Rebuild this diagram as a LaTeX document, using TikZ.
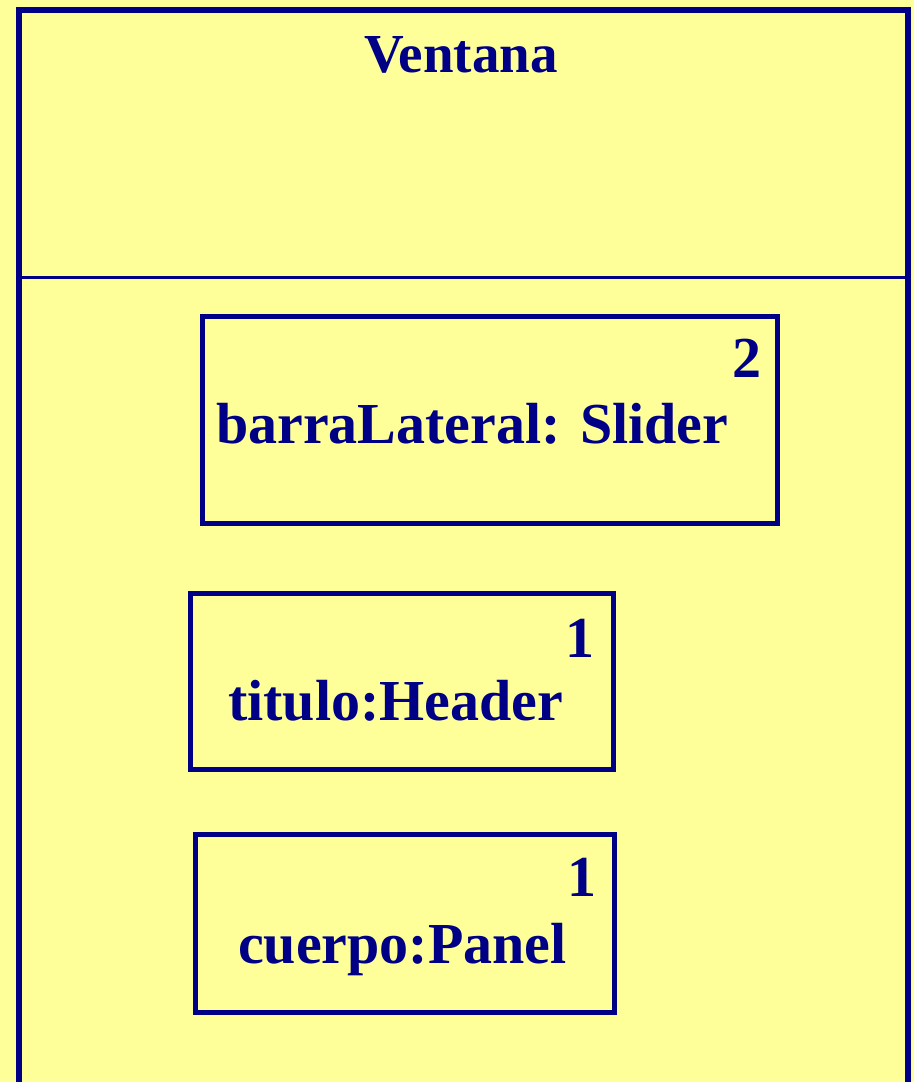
\documentclass[tikz,border=0pt]{standalone}
\usepackage{fontspec}
\setmainfont{Liberation Serif}
\definecolor{fondo}{RGB}{255,255,153}
\definecolor{marino}{RGB}{0,0,134}

\begin{document}
\begin{tikzpicture}[x=1pt,y=-1pt,
    parte/.style={draw=marino,line width=5pt,inner sep=0pt},
    rotulo/.style={text=marino,inner sep=0pt,anchor=base west,
        font=\fontsize{58}{60}\selectfont\bfseries},
    multi/.style={text=marino,inner sep=0pt,anchor=base east,
        font=\fontsize{58}{60}\selectfont\bfseries}]
    \fill[fondo] (0,0) rectangle (914,1082);
    \useasboundingbox (0,0) rectangle (914,1082);

    % class frame, open at the bottom
    \draw[marino,line width=6pt] (18.5,1095) -- (18.5,9.5) -- (908,9.5) -- (908,1095);
    \node[text=marino,inner sep=0pt,anchor=base,font=\fontsize{55}{57}\selectfont\bfseries]
        (ventana) at (461,72) {Ventana};

    % compartment line
    \draw[marino,line width=3pt] (18.5,277.5) -- (908,277.5);

    % parts
    \node[parte,minimum width=575pt,minimum height=207pt] (barra) at (489.5,420) {};
    \node[parte,minimum width=423pt,minimum height=176pt] (titulo) at (401.5,681.5) {};
    \node[parte,minimum width=419pt,minimum height=178pt] (cuerpo) at (405,923.5) {};

    % names and multiplicities
    \node[rotulo] (barranom) at (216,443) {barraLateral: Slider};
    \node[multi] (barramul) at (762,377) {2};
    \node[rotulo] (titulonom) at (228,720) {titulo:Header};
    \node[multi] (titulomul) at (595,657) {1};
    \node[rotulo] (cuerponom) at (238,963) {cuerpo:Panel};
    \node[multi] (cuerpomul) at (597,896) {1};
\end{tikzpicture}
\end{document}
